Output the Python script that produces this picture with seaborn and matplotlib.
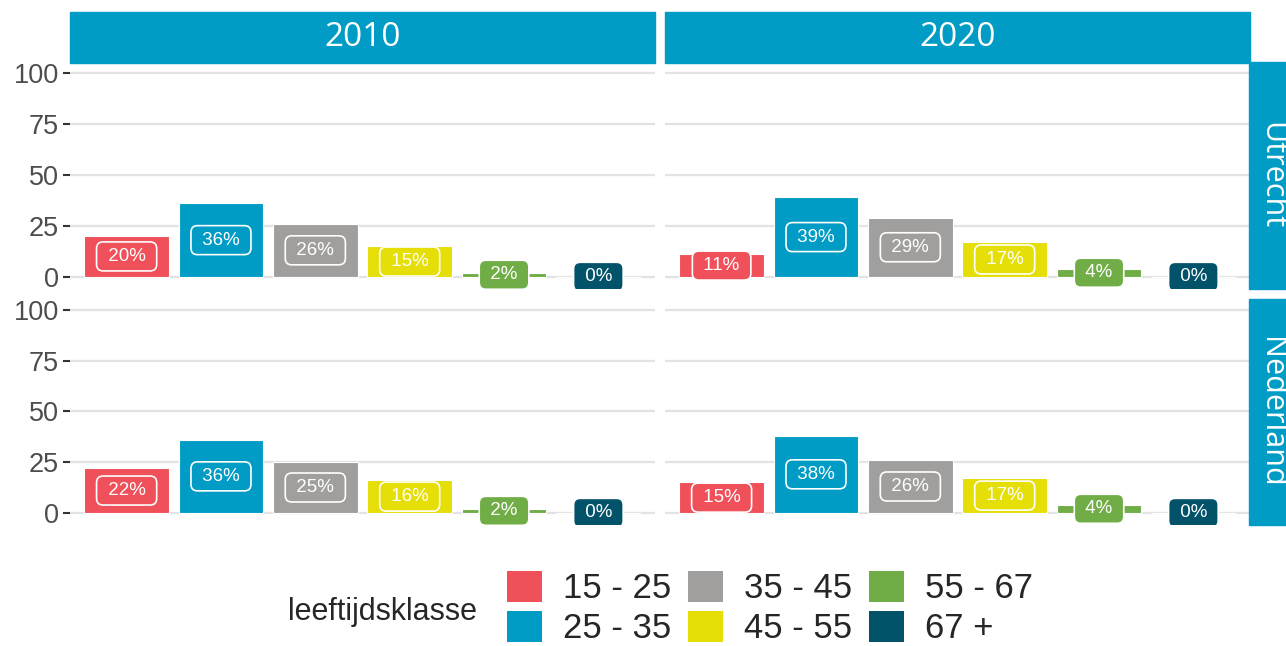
import pandas as pd
import matplotlib
matplotlib.use("Agg")
import matplotlib.pyplot as plt
import seaborn as sns
from matplotlib.patches import Patch, Rectangle

# data
klassen = ["15 - 25", "25 - 35", "35 - 45", "45 - 55", "55 - 67", "67 +"]
kleuren = ["#F0505A", "#009CC5", "#A09F9D", "#E5DE07", "#70AD47", "#02536A"]
jaren = ["2010", "2020"]
regios = ["Utrecht", "Nederland"]

utrecht_2010 = [20, 36, 26, 15, 2, 0]
utrecht_2020 = [11, 39, 29, 17, 4, 0]
nederland_2010 = [22, 36, 25, 16, 2, 0]
nederland_2020 = [15, 38, 26, 17, 4, 0]

waarden = {
    ("Utrecht", "2010"): utrecht_2010,
    ("Utrecht", "2020"): utrecht_2020,
    ("Nederland", "2010"): nederland_2010,
    ("Nederland", "2020"): nederland_2020,
}

rows = []
for (regio, jaar), vals in waarden.items():
    for k, v in zip(klassen, vals):
        rows.append({"regio": regio, "jaar": jaar, "leeftijdsklasse": k, "pct": v})
df = pd.DataFrame(rows)

sns.set_style("white")
plt.rcParams["font.family"] = ["Liberation Sans", "DejaVu Sans"]

W, H = 1286, 646
strip_kleur = "#009CC5"
fig = plt.figure(figsize=(W / 100, H / 100), dpi=100)

col_x = [(70, 655), (665, 1250)]
row_y = [(62, 289), (299, 525)]


def fig_rect(x0, y0, x1, y1):
    return [x0 / W, 1 - y1 / H, (x1 - x0) / W, (y1 - y0) / H]


for r, regio in enumerate(regios):
    for c, jaar in enumerate(jaren):
        x0, x1 = col_x[c]
        y0, y1 = row_y[r]
        ax = fig.add_axes(fig_rect(x0, y0, x1, y1))
        sub = df[(df.regio == regio) & (df.jaar == jaar)]
        sns.barplot(data=sub, x="leeftijdsklasse", y="pct", hue="leeftijdsklasse",
                    order=klassen, hue_order=klassen, palette=kleuren, width=0.9,
                    saturation=1, edgecolor="white", linewidth=0.8, legend=False,
                    ax=ax)
        for i, (k, v) in enumerate(zip(klassen, sub.pct)):
            ax.text(i, v / 2, f" {v}% ", ha="center", va="center", color="white",
                    fontsize=13.5, clip_on=True,
                    bbox=dict(boxstyle="round,pad=0.32,rounding_size=0.35",
                              fc=kleuren[i], ec="white", lw=1.2))
        ax.set_xlim(-0.6, 5.6)
        ax.set_ylim(-6, 105.5)
        ax.set_yticks([0, 25, 50, 75, 100])
        ax.set_xticks([])
        ax.set_xlabel("")
        ax.set_ylabel("")
        ax.yaxis.grid(True, color="#E3E3E3", lw=1.6)
        ax.set_axisbelow(True)
        for s in ax.spines.values():
            s.set_visible(False)
        if c == 0:
            ax.tick_params(axis="y", length=5, width=1.5, color="#333333",
                           labelsize=19.5, labelcolor="#4D4D4D", pad=3, left=True)
        else:
            ax.tick_params(axis="y", left=False, labelleft=False)

# strips
for c, jaar in enumerate(jaren):
    x0, x1 = col_x[c]
    fig.add_artist(Rectangle((x0 / W, 1 - 63 / H), (x1 - x0) / W, 51 / H,
                             transform=fig.transFigure, color=strip_kleur))
    fig.text((x0 + x1) / 2 / W, 1 - 38 / H, jaar, ha="center", va="center",
             color="white", fontsize=24, family="Open Sans")
for r, regio in enumerate(regios):
    y0, y1 = row_y[r]
    fig.add_artist(Rectangle((1249 / W, 1 - y1 / H), 52 / W, (y1 - y0) / H,
                             transform=fig.transFigure, color=strip_kleur))
    fig.text(1271 / W, 1 - (y0 + y1) / 2 / H, regio, ha="center", va="center",
             rotation=-90, color="white", fontsize=22, family="Open Sans")

# legend
handles = [Patch(facecolor=k, edgecolor="none") for k in kleuren]
fig.legend(handles, klassen, ncol=3, loc="upper left",
           bbox_to_anchor=(507 / W, 1 - 571 / H), frameon=False, fontsize=25,
           handlelength=1.0, handleheight=1.0, handletextpad=0.6,
           columnspacing=0.5, labelspacing=0.15, borderpad=0, borderaxespad=0)
fig.text(288 / W, 1 - 612 / H, "leeftijdsklasse", ha="left", va="center",
         fontsize=22)

fig.savefig("out.png", dpi=100)
